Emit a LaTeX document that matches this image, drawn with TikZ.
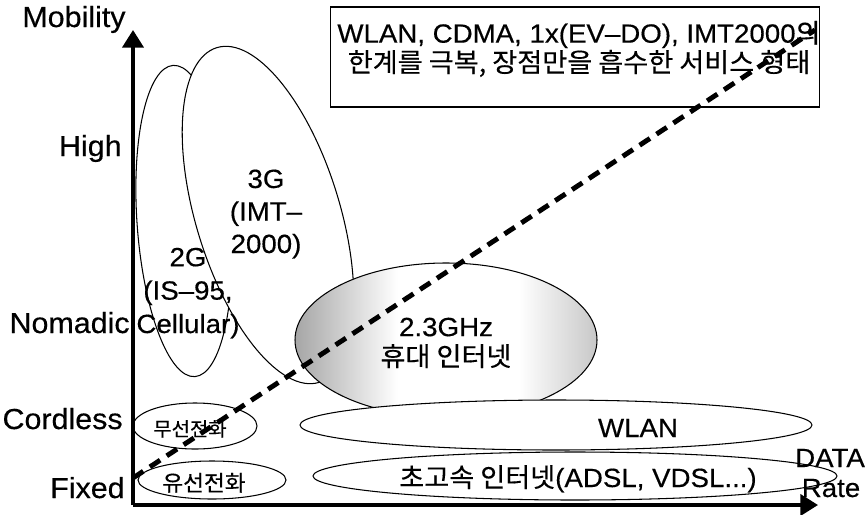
\documentclass[tikz,border=0pt]{standalone}
\usepackage{fontspec}
\setmainfont{Liberation Sans}[FakeStretch=1.05, FakeBold=0.4]
\newfontfamily\kr{Noto Sans CJK KR}[FakeStretch=1.03, FakeBold=0.3]
\usetikzlibrary{arrows.meta,shapes}
\pgfdeclarehorizontalshading{wibroshade}{100bp}{color(0bp)=(black!55); color(25bp)=(black!35);
  color(42bp)=(white); color(62bp)=(white); color(80bp)=(black!30); color(100bp)=(black!45)}

\begin{document}
\begin{tikzpicture}[x=0.02cm, y=-0.02cm,
    every node/.style={inner sep=0pt},
    lbl/.style={font=\fontsize{15}{19}\selectfont},
    axlbl/.style={font=\fontsize{16.5}{19}\selectfont},
    small/.style={font=\fontsize{11}{12}\selectfont},
    ring/.style={draw, line width=0.6pt},
    axis/.style={line width=2pt, -{Triangle[length=10pt,width=12pt]}},
    trend/.style={line width=2.8pt, dash pattern=on 7pt off 4.5pt}]
  \useasboundingbox (0,0) rectangle (865,514);

  % service regions
  \draw[ring, fill=white] (184,221) ellipse [x radius=47, y radius=156, rotate=4];
  \draw[ring, fill=white] (268,215) ellipse [x radius=72, y radius=175, rotate=17];
  \shade[shading=wibroshade] (446,340) ellipse [x radius=151, y radius=77];
  \draw[ring] (446,340) ellipse [x radius=151, y radius=77];
  \draw[ring, fill=white] (556,425) ellipse [x radius=256, y radius=25];
  \draw[ring] (575,476) ellipse [x radius=262, y radius=24];
  \draw[ring] (195,426) ellipse [x radius=62, y radius=23];
  \draw[ring] (212,480) ellipse [x radius=74, y radius=19];

  % axes
  \coordinate (origin) at (133,505);
  \coordinate (ytop) at (133,30);
  \coordinate (xend) at (818,505);
  \draw[axis] (origin) -- (ytop);
  \draw[axis] (origin) -- (xend);

  \node[axlbl, anchor=base west] (mob) at (22,27) {Mobility};
  \node[axlbl, anchor=base east] (high) at (122,156) {High};
  \node[axlbl, anchor=base east] (nomadic) at (130,333) {Nomadic};
  \node[axlbl, anchor=base east] (cordless) at (123,429) {Cordless};
  \node[axlbl, anchor=base east] (fixed) at (125,498) {Fixed};
  \node[lbl, anchor=base] (data) at (830,467) {DATA};
  \node[lbl, anchor=base] (rate) at (831,497) {Rate};

  % region labels
  \node[lbl, font=\fontsize{15}{18.5}\selectfont, anchor=base, align=center] (g3) at (266,253) {3G\\(IMT--\\2000)};
  \node[lbl, anchor=base, align=center] (g2) at (188,333) {2G\\(IS--95,\\Cellular)};
  \node[lbl, font=\fontsize{15}{17}\selectfont, anchor=base, align=center] (wibro) at (446,366) {2.3GHz\\{\kr 휴대 인터넷}};
  \node[lbl, anchor=base] (wlan) at (638,437) {WLAN};
  \node[lbl, anchor=base] (bband) at (578,487) {{\kr 초고속 인터넷}(ADSL, VDSL...)};
  \node[small, anchor=base] (cordtel) at (190,436) {\kr 무선전화};
  \node[lbl, font=\fontsize{12.5}{14}\selectfont, anchor=base] (fixtel) at (204,491) {\kr 유선전화};

  % note box
  \node[draw, line width=0.6pt, fill=white, minimum width=9.8cm, minimum height=2cm] (note) at (575,57) {};
  \node[lbl, font=\fontsize{15}{15.3}\selectfont, anchor=base, align=center] (notetext) at (579,72)
    {WLAN, CDMA, 1x(EV--DO), IMT2000{\kr 의}\\{\kr 한계를 극복, 장점만을 흡수한 서비스 형태}};

  % trend line
  \coordinate (tstart) at (133,478);
  \coordinate (tend) at (815,30);
  \draw[trend] (tstart) -- (tend);
\end{tikzpicture}
\end{document}
